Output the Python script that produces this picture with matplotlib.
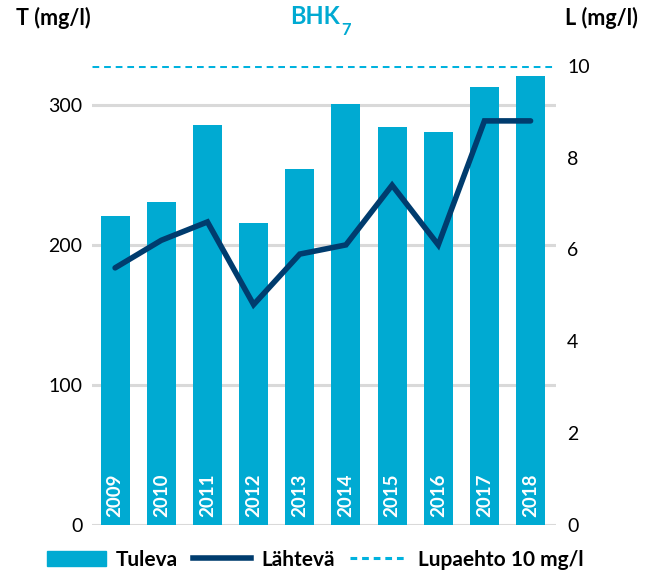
import numpy as np
import matplotlib
matplotlib.use("Agg")
import matplotlib.pyplot as plt
from matplotlib.patches import Patch
from matplotlib.lines import Line2D

plt.rcParams['font.family'] = ['Lato', 'DejaVu Sans']

# data
years = ['2009', '2010', '2011', '2012', '2013', '2014', '2015', '2016', '2017', '2018']
tuleva = [221, 231, 286, 216, 254, 301, 284, 281, 313, 321]      # T (mg/l), left axis
lahteva = [5.6, 6.2, 6.6, 4.8, 5.9, 6.1, 7.4, 6.1, 8.8, 8.8]      # L (mg/l), right axis
lupaehto = 10
left_ticks = [0, 100, 200, 300]
right_ticks = [0, 2, 4, 6, 8, 10]

cyan = '#00AAD2'
navy = '#003C6E'
dash_col = '#00B2DE'

fig = plt.figure(figsize=(6.48, 5.77), dpi=100)
ax = fig.add_axes([0.142, 0.090, 0.716, 0.796])
ax2 = ax.twinx()

x = np.arange(len(years))
ax.bar(x, tuleva, width=0.63, color=cyan, zorder=2)
for xi, yr in zip(x, years):
    ax.text(xi, 6, yr, rotation=90, ha='center', va='bottom', color='white',
            fontsize=13.5, fontweight='bold', zorder=3)

ax.set_ylim(0, 328)
ax.set_xlim(-0.5, 9.55)
ax.set_yticks(left_ticks)
ax.yaxis.grid(True, color='#D9D9D9', linewidth=2.2, zorder=0)
ax.set_axisbelow(True)
ax.set_xticks([])

ax2.plot(x, lahteva, color=navy, linewidth=4, solid_capstyle='round',
         solid_joinstyle='miter', zorder=4)
ax2.axhline(lupaehto, color=dash_col, linewidth=2.2, dashes=(2.2, 1.6), zorder=4)
ax2.set_ylim(0, 10)
ax2.set_yticks(right_ticks)

for a in (ax, ax2):
    for s in a.spines.values():
        s.set_visible(False)
    a.tick_params(length=0, labelsize=14, colors='black')
ax.tick_params(axis='y', pad=7)
ax2.tick_params(axis='y', pad=8)

fig.text(0.024, 0.968, 'T (mg/l)', fontsize=15.5, fontweight='bold', va='center', ha='left')
fig.text(0.984, 0.968, 'L (mg/l)', fontsize=15.5, fontweight='bold', va='center', ha='right')
fig.text(0.525, 0.972, 'BHK', fontsize=17, fontweight='bold', color=cyan, va='center', ha='right')
fig.text(0.527, 0.948, '7', fontsize=12, fontweight='bold', color=cyan, va='center', ha='left')

handles = [Patch(color=cyan, label='Tuleva'),
           Line2D([], [], color=navy, linewidth=4, label='Lähtevä'),
           Line2D([], [], color=dash_col, linewidth=2.2, dashes=(2.2, 1.6), label='Lupaehto 10 mg/l')]
fig.legend(handles=handles, loc='center', bbox_to_anchor=(0.487, 0.030), ncol=3, frameon=False,
           prop={'size': 15, 'weight': 'bold'}, handlelength=2.8, handleheight=0.7,
           columnspacing=0.7, handletextpad=0.5)

fig.savefig('out.png', dpi=100)
